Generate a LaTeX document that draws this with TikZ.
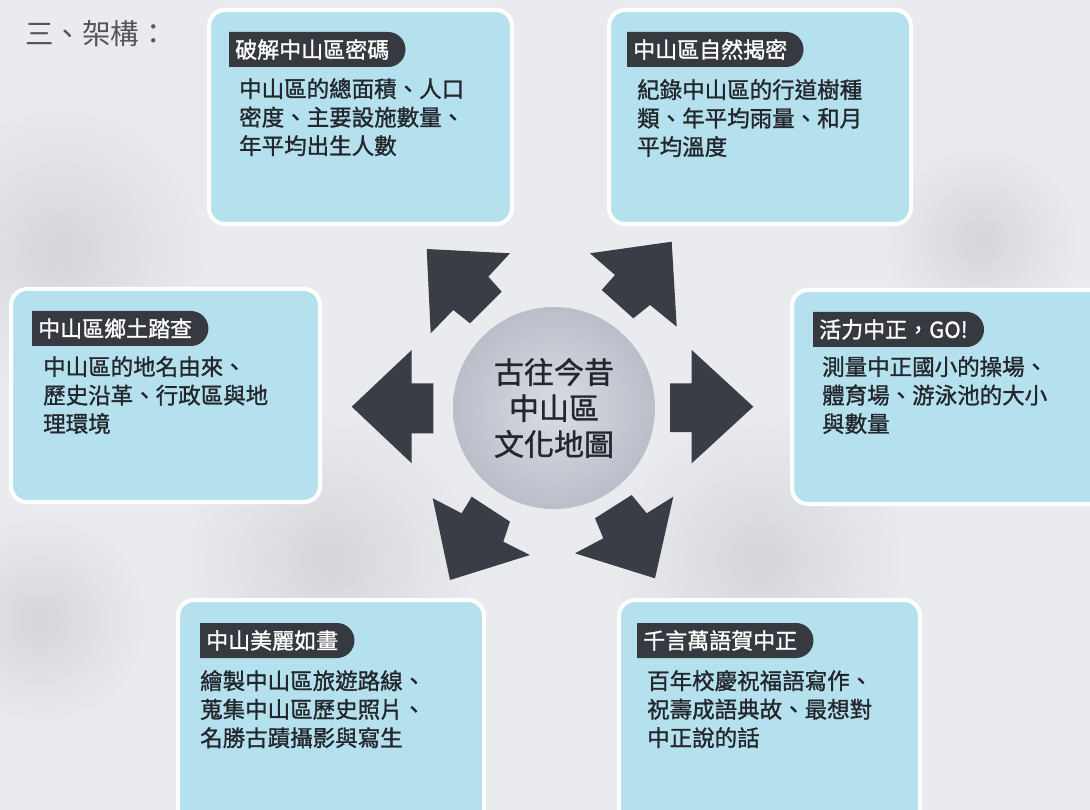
\documentclass[tikz,border=0pt]{standalone}
\usepackage{fontspec}
\setmainfont{Noto Sans CJK TC}
\newfontfamily\boldish[FakeBold=1.2]{Noto Sans CJK TC}
\usetikzlibrary{shapes.misc}
\definecolor{bg}{RGB}{234,235,238}
\definecolor{bgdark}{RGB}{212,214,219}
\definecolor{boxblue}{RGB}{180,225,237}
\definecolor{tagdark}{RGB}{55,57,64}
\definecolor{arrowdark}{RGB}{58,61,69}
\definecolor{txt}{RGB}{35,38,44}
\definecolor{headtxt}{RGB}{85,85,88}
\definecolor{circin}{RGB}{218,220,227}
\definecolor{circout}{RGB}{186,190,201}
\tikzset{
  box/.style={draw=white, line width=4pt, fill=boxblue, rounded corners=16pt, anchor=north west, inner sep=0pt},
  tag/.style={rounded rectangle, rounded rectangle west arc=none, fill=tagdark, text=white,
     font=\boldish\fontsize{22}{22}\selectfont, minimum height=35pt, inner xsep=6pt, inner ysep=0pt, anchor=west,
     execute at end node={\hspace{7pt}}},
  body/.style={anchor=north west, inner sep=0pt, align=left, text=txt, font=\boldish\fontsize{22.5}{28.5}\selectfont},
  blockarrow/.style={fill=arrowdark},
  blot/.style={inner color=bgdark, outer color=bg},
}
\begin{document}
\begin{tikzpicture}[x=1pt,y=-1pt]
\useasboundingbox (0,0) rectangle (1090,810);
\clip (0,0) rectangle (1090,810);
\fill[bg] (0,0) rectangle (1090,810);
% faint background texture
\shade[blot] (60,250) circle [radius=150];
\shade[blot] (330,560) circle [radius=150];
\shade[blot] (760,560) circle [radius=150];
\shade[blot] (980,240) circle [radius=100];
\shade[blot] (40,620) circle [radius=110];

% heading
\node[anchor=west, inner sep=0pt, text=headtxt, font=\fontsize{28.5}{28.5}\selectfont] (hd) at (25,34) {三、架構：};

% boxes
\node[box, minimum width=303pt, minimum height=214pt] (b1) at (207,8) {};
\node[box, minimum width=302pt, minimum height=214pt] (b2) at (607,8) {};
\node[box, minimum width=309pt, minimum height=213pt] (b3) at (9,287) {};
\node[box, minimum width=320pt, minimum height=214pt] (b4) at (790,288) {};
\node[box, minimum width=306pt, minimum height=230pt] (b5) at (176,598) {};
\node[box, minimum width=301pt, minimum height=230pt] (b6) at (617,598) {};

% tags
\node[tag] (t1) at (229,49.5) {破解中山區密碼};
\node[tag] (t2) at (627,49.5) {中山區自然揭密};
\node[tag] (t3) at (32,328.5) {中山區鄉土踏查};
\node[tag] (t4) at (813,329.5) {活力中正，GO!};
\node[tag] (t5) at (200,640.5) {中山美麗如畫};
\node[tag] (t6) at (637,640.5) {千言萬語賀中正};

% body texts
\node[body] (x1) at (239,78) {中山區的總面積、人口\\密度、主要設施數量、\\年平均出生人數};
\node[body] (x2) at (637,79) {紀錄中山區的行道樹種\\類、年平均雨量、和月\\平均溫度};
\node[body] (x3) at (43,356) {中山區的地名由來、\\歷史沿革、行政區與地\\理環境};
\node[body] (x4) at (822,356) {測量中正國小的操場、\\體育場、游泳池的大小\\與數量};
\node[body] (x5) at (200,670) {繪製中山區旅遊路線、\\蒐集中山區歷史照片、\\名勝古蹟攝影與寫生};
\node[body] (x6) at (647,670) {百年校慶祝福語寫作、\\祝壽成語典故、最想對\\中正說的話};

% center circle
\node[circle, minimum size=202pt, inner sep=0pt, shading=radial, inner color=circin, outer color=circout] (core) at (554,408) {};
\node[align=center, inner sep=0pt, text=txt, font=\boldish\fontsize{30}{36}\selectfont] (ctext) at (554,408) {古往今昔\\中山區\\文化地圖};

% block arrows
% left
\fill[blockarrow] (351.7,406.7) -- (411.7,350) -- (411.7,383.3) -- (433.3,383.3) -- (433.3,433.3) -- (411.7,433.3) -- (411.7,463.3) -- cycle;
% right
\fill[blockarrow] (753.3,406.7) -- (691.7,350) -- (691.7,383.3) -- (670,383.3) -- (670,432) -- (691.7,432) -- (691.7,463.3) -- cycle;
% upper left
\fill[blockarrow] (426.7,249) -- (510,253.3) -- (488.3,276.7) -- (501.7,291.7) -- (470,323.3) -- (453.3,310) -- (430.7,333.3) -- cycle;
% upper right
\fill[blockarrow] (671.7,241.7) -- (590,253.3) -- (615,275) -- (601.7,290) -- (633.3,318.3) -- (650,305) -- (676.7,326.7) -- cycle;
% lower left
\fill[blockarrow] (450,580) -- (432.7,498.3) -- (461.7,513.3) -- (471.7,496.7) -- (510,521.7) -- (503.3,541.7) -- (530,555) -- cycle;
% lower right
\fill[blockarrow] (655,578.3) -- (575,553.3) -- (603.3,538.3) -- (595,518.3) -- (631.7,495) -- (646.7,513.3) -- (673.3,496.7) -- cycle;
\end{tikzpicture}
\end{document}
